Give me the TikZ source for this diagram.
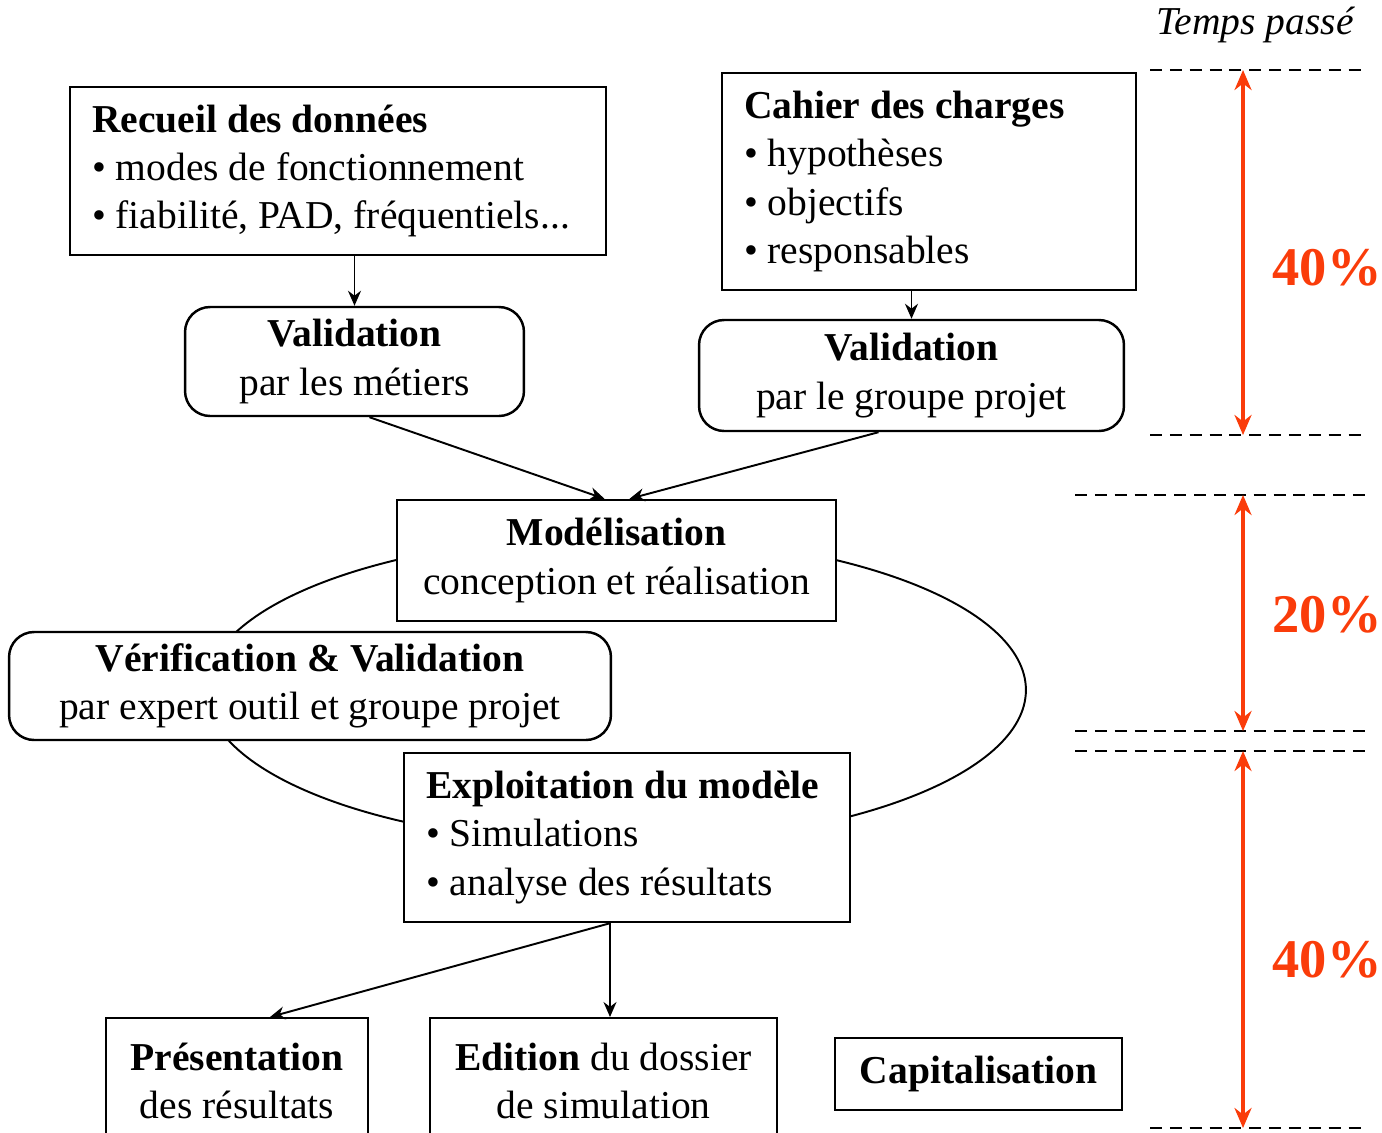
\documentclass[tikz,border=0pt]{standalone}
\usepackage{fontspec}
\setmainfont{Liberation Serif}
\usetikzlibrary{calc,arrows.meta}
\definecolor{PctRed}{RGB}{250,60,10}
\tikzset{
    plainbox/.style={draw=black,line width=1.4pt,fill=white,inner sep=0pt,align=center},
    listbox/.style={plainbox,align=flush left,inner xsep=0.44cm},
    roundbox/.style={plainbox,rounded corners=0.5cm},
    flowarrow/.style={line width=1.1pt,-{Stealth[length=3mm,width=2.6mm]}},
    pctarrow/.style={line width=2pt,PctRed,{Stealth[length=4mm,width=3.4mm]}-{Stealth[length=4mm,width=3.4mm]}},
    timeline/.style={line width=1.1pt,dash pattern=on 6.8pt off 4.5pt},
    pctlabel/.style={PctRed,font=\fontsize{31}{36}\selectfont\bfseries},
    cycleline/.style={line width=1.1pt}
}

\begin{document}
\begin{tikzpicture}[x=0.02cm,y=-0.02cm,every node/.style={font=\fontsize{22.5}{27.5}\selectfont}]
		\useasboundingbox (0,0) rectangle (1382,1132);
		\clip (0,0) rectangle (1382,1132);
		% modelling cycle
		\draw[cycleline] (616,690) ellipse [x radius=8.2cm, y radius=3.08cm];
		% upper boxes
		\node[listbox,text width=9.84cm,minimum height=3.36cm] (recueil) at (338,171)
			{\textbf{Recueil des données}\\\textbullet{} modes de fonctionnement\\\textbullet{} fiabilité, PAD, fréquentiels...};
		\node[listbox,text width=7.4cm,minimum height=4.34cm] (cahier) at (929,181.5)
			{\textbf{Cahier des charges}\\\textbullet{} hypothèses\\\textbullet{} objectifs\\\textbullet{} responsables};
		\node[roundbox,minimum width=6.78cm,minimum height=2.18cm] (valmet) at (354.5,361.5)
			{\textbf{Validation}\\par les métiers};
		\node[roundbox,minimum width=8.5cm,minimum height=2.22cm] (valgrp) at (911.5,375.5)
			{\textbf{Validation}\\par le groupe projet};
		% cycle boxes
		\node[plainbox,minimum width=8.78cm,minimum height=2.42cm] (model) at (616.5,560.5)
			{\textbf{Modélisation}\\conception et réalisation};
		\node[roundbox,minimum width=12.04cm,minimum height=2.16cm] (verif) at (310,686)
			{\textbf{Vérification \& Validation}\\par expert outil et groupe projet};
		\node[listbox,text width=8.04cm,minimum height=3.38cm] (exploit) at (627,837.5)
			{\textbf{Exploitation du modèle}\\\textbullet{} Simulations\\\textbullet{} analyse des résultats};
		% lower boxes
		\node[plainbox,anchor=north,minimum width=5.24cm,minimum height=2.5cm] (pres) at (237,1017)
			{\textbf{Présentation}\\des résultats};
		\node[plainbox,anchor=north,minimum width=6.94cm,minimum height=2.5cm] (edition) at (603.5,1017)
			{\textbf{Edition} du dossier\\de simulation};
		\node[plainbox,minimum width=5.74cm,minimum height=1.44cm] (capital) at (978.5,1074)
			{\textbf{Capitalisation}};
		% connectors
		\draw[flowarrow] (valmet.north |- recueil.south) -- (valmet.north);
		\draw[flowarrow] (valgrp.north |- cahier.south) -- (valgrp.north);
		\draw[flowarrow] ($(valmet.south)+(15,0)$) -- ($(model.north)+(-12,0)$);
		\draw[flowarrow] ($(valgrp.south)+(-33,0)$) -- ($(model.north)+(13,0)$);
		\coordinate (fork) at ($(exploit.south)+(-17,0)$);
		\draw[flowarrow] (fork) -- ($(pres.north)+(33,0)$);
		\draw[flowarrow] (fork) -- (fork |- edition.north);
		% time scale
		\node[font=\fontsize{22.5}{27.5}\selectfont\itshape] (temps) at (1255,25) {Temps passé};
		\draw[timeline] (1150,70) -- (1362,70);
		\draw[timeline] (1150,435) -- (1362,435);
		\draw[timeline] (1075,495) -- (1368,495);
		\draw[timeline] (1075,731) -- (1368,731);
		\draw[timeline] (1075,751) -- (1368,751);
		\draw[timeline] (1150,1128) -- (1362,1128);
		\draw[pctarrow] (1243,70) -- (1243,435);
		\draw[pctarrow] (1243,495) -- (1243,731);
		\draw[pctarrow] (1243,751) -- (1243,1128);
		\node[pctlabel] (pcta) at (1327,268) {40\%};
		\node[pctlabel] (pctb) at (1327,615) {20\%};
		\node[pctlabel] (pctc) at (1327,960) {40\%};
\end{tikzpicture}
\end{document}
